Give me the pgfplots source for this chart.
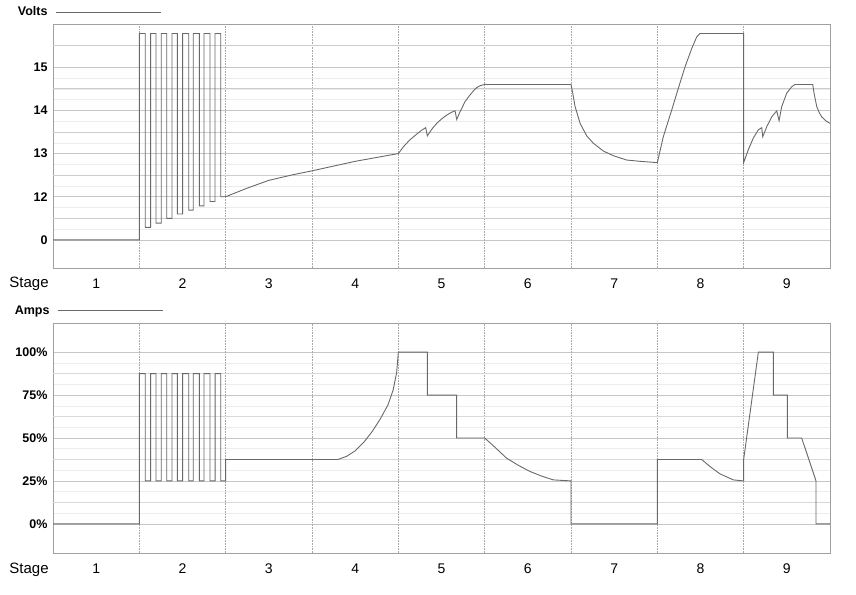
\documentclass[border=0pt]{standalone}
\usepackage{fontspec}
\setmainfont{Liberation Sans}
\usepackage{pgfplots}
\pgfplotsset{compat=1.18}
\definecolor{linec}{RGB}{105,105,105}
\definecolor{framec}{RGB}{160,160,160}
\pgfplotsset{
  common/.style={
    scale only axis, width=777pt,
    xmin=0, xmax=9,
    axis line style={framec},
    major tick length=0pt, minor tick length=0pt,
    xtick={0.5,1.5,2.5,3.5,4.5,5.5,6.5,7.5,8.5},
    xticklabels={1,2,3,4,5,6,7,8,9},
    x tick label style={font=\fontsize{14}{14}\selectfont, yshift=-7pt},
    y tick label style={font=\bfseries\fontsize{12.5}{13}\selectfont, xshift=-2pt},
    /pgf/number format/assume math mode=true,
    extra x ticks={1,2,3,4,5,6,7,8},
    extra x tick labels={},
    extra x tick style={grid=major, major grid style={densely dotted, gray!70, line width=0.6pt}},
    ymajorgrids, yminorgrids,
    major grid style={gray!45, line width=0.6pt},
    minor grid style={gray!15, line width=0.5pt},
    legend plot pos=right,
    legend image code/.code={\path (0pt,0pt); \draw[linec,line width=0.8pt] (6pt,0pt) -- (111pt,0pt);},
  }
}
\begin{document}
\begin{tikzpicture}
\useasboundingbox (0pt,0pt) rectangle (856pt,-594pt);

% ---------------- Volts ----------------
\begin{axis}[common,
  at={(53pt,-268pt)}, anchor=south west, height=244pt,
  ymin=10.35, ymax=16.0,
  ytick={11,12,13,14,15}, yticklabels={0,12,13,14,15},
  minor y tick num=3,
  extra y ticks={11.5,12.5,13.5,14.5,15.5},
  extra y tick labels={},
  extra y tick style={grid=major, major grid style={gray!40, line width=0.6pt}},
  legend style={at={(axis description cs:-0.048,1.049)}, anchor=west, draw=none, fill=none,
    font=\bfseries\fontsize{12.5}{13}\selectfont, inner sep=0pt},
]
\addplot[linec, line width=0.9pt, mark=none] coordinates {
(0,11)(1,11)(1,15.78)(1.069,15.78)(1.069,11.29)(1.131,11.29)(1.131,15.78)(1.193,15.78)(1.193,11.39)
(1.254,11.39)(1.254,15.78)(1.317,15.78)(1.317,11.50)(1.378,11.50)(1.378,15.78)(1.44,15.78)(1.44,11.60)
(1.502,11.60)(1.502,15.78)(1.572,15.78)(1.572,11.69)(1.625,11.69)(1.625,15.78)(1.695,15.78)(1.695,11.79)
(1.749,11.79)(1.749,15.78)(1.819,15.78)(1.819,11.89)(1.877,11.89)(1.877,15.78)(1.943,15.78)(1.943,12.0)
(2.0,12.0)(2.25,12.2)(2.5,12.38)(2.78,12.51)(3.0,12.6)(3.25,12.71)(3.5,12.82)(3.75,12.91)(4.0,13.0)
(4.06,13.16)(4.135,13.32)(4.213,13.45)(4.27,13.54)(4.317,13.6)(4.336,13.41)(4.39,13.57)(4.445,13.70)
(4.5,13.8)(4.56,13.89)(4.61,13.95)(4.657,13.99)(4.676,13.79)(4.72,13.99)(4.772,14.2)(4.82,14.33)
(4.869,14.45)(4.91,14.53)(4.946,14.57)(5.0,14.6)(6.0,14.6)(6.02,14.4)(6.047,14.09)(6.105,13.70)
(6.182,13.41)(6.258,13.24)(6.374,13.06)(6.49,12.95)(6.645,12.85)(6.8,12.82)(7.0,12.79)
(7.069,13.39)(7.167,14.01)(7.243,14.51)(7.321,15.01)(7.398,15.43)(7.456,15.70)(7.494,15.78)(8.0,15.78)
(8.0,12.79)(8.054,13.09)(8.112,13.36)(8.17,13.55)(8.209,13.6)(8.221,13.39)(8.267,13.62)(8.325,13.85)
(8.383,13.99)(8.41,13.76)(8.441,14.09)(8.499,14.40)(8.557,14.55)(8.595,14.6)(8.8,14.6)(8.815,14.4)
(8.846,14.09)(8.875,13.95)(8.904,13.85)(8.95,13.76)(9.0,13.70)
};
\addlegendentry{Volts}
\end{axis}
\node[font=\fontsize{15}{15}\selectfont] at (29pt,-284pt) {Stage};

% ---------------- Amps ----------------
\begin{axis}[common,
  at={(53pt,-553pt)}, anchor=south west, height=230pt,
  ymin=-17, ymax=117,
  ytick={0,25,50,75,100}, yticklabels={0\%,25\%,50\%,75\%,100\%},
  minor y tick num=3,
  extra y ticks={12.5,37.5,62.5,87.5},
  extra y tick labels={},
  extra y tick style={grid=major, major grid style={gray!30, line width=0.6pt}},
  legend style={at={(axis description cs:-0.052,1.053)}, anchor=west, draw=none, fill=none,
    font=\bfseries\fontsize{12.5}{13}\selectfont, inner sep=0pt},
]
\addplot[linec, line width=0.9pt, mark=none] coordinates {
(0,0)(1,0)(1,87.5)(1.069,87.5)(1.069,25)(1.131,25)(1.131,87.5)(1.193,87.5)(1.193,25)(1.254,25)
(1.254,87.5)(1.317,87.5)(1.317,25)(1.378,25)(1.378,87.5)(1.44,87.5)(1.44,25)(1.502,25)(1.502,87.5)
(1.572,87.5)(1.572,25)(1.625,25)(1.625,87.5)(1.695,87.5)(1.695,25)(1.749,25)(1.749,87.5)(1.819,87.5)
(1.819,25)(1.877,25)(1.877,87.5)(1.943,87.5)(1.943,25)(2.0,25)(2.0,37.5)(3.3,37.5)(3.4,39.3)(3.5,42.5)
(3.6,47.5)(3.7,54)(3.79,61)(3.88,69.3)(3.94,78)(3.98,88)(4.0,100)(4.336,100)(4.336,75)(4.676,75)
(4.676,50)(5.0,50)(5.1,45.5)(5.255,38.2)(5.4,33.8)(5.525,30.5)(5.66,27.8)(5.795,25.6)(6.0,25)(6.0,0)
(7.0,0)(7.0,37.5)(7.514,37.5)(7.56,35.5)(7.61,33.4)(7.726,29.1)(7.88,25.6)(8.0,25)(8.0,37.5)(8.17,100)
(8.344,100)(8.344,75)(8.506,75)(8.506,50)(8.672,50)(8.838,25)(8.838,0)(9.0,0)
};
\addlegendentry{Amps}
\end{axis}
\node[font=\fontsize{15}{15}\selectfont] at (29pt,-570pt) {Stage};
\end{tikzpicture}
\end{document}
